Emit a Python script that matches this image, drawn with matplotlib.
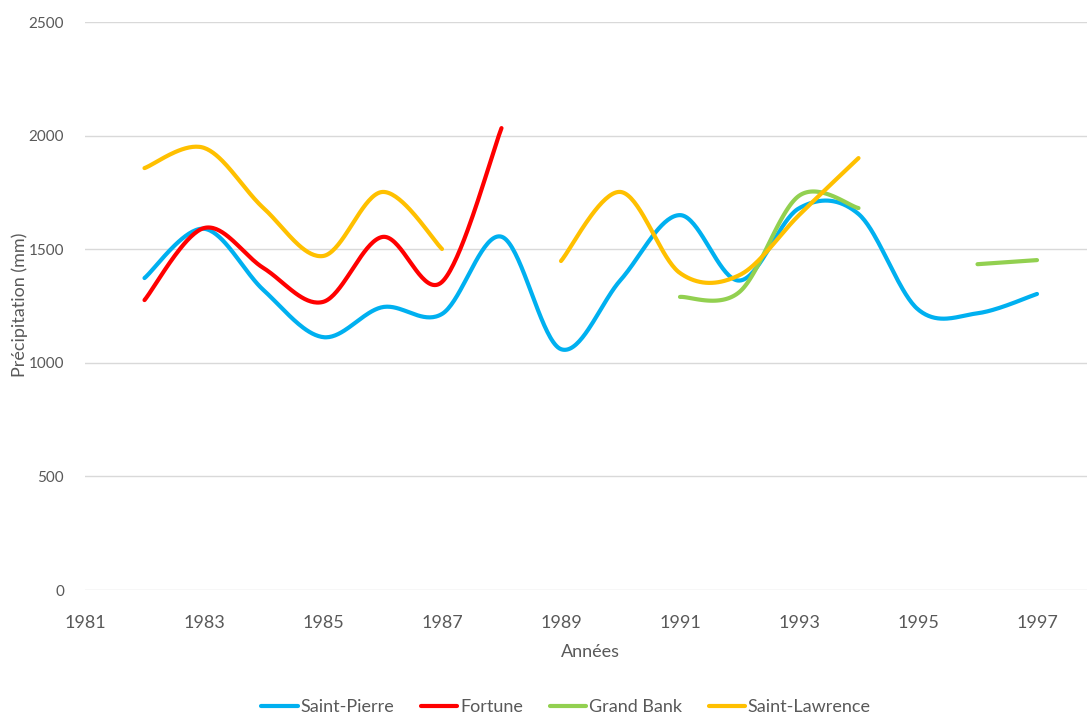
import numpy as np
import matplotlib
matplotlib.use("Agg")
import matplotlib.pyplot as plt

plt.rcParams['font.family'] = ['Lato', 'DejaVu Sans']

# précipitations annuelles (mm)
annees_sp = [1982, 1983, 1984, 1985, 1986, 1987, 1988, 1989, 1990, 1991,
             1992, 1993, 1994, 1995, 1996, 1997]
saint_pierre = [1373, 1590, 1320, 1113, 1245, 1215, 1555, 1060, 1364, 1650,
                1362, 1680, 1655, 1235, 1218, 1303]

annees_fortune = [1982, 1983, 1984, 1985, 1986, 1987, 1988]
fortune = [1276, 1593, 1417, 1268, 1554, 1356, 2033]

# Grand Bank : deux tronçons (pas de données en 1995)
annees_gb1 = [1991, 1992, 1993, 1994]
grand_bank1 = [1290, 1312, 1735, 1681]
annees_gb2 = [1996, 1997]
grand_bank2 = [1434, 1452]

# Saint-Lawrence : pas de données en 1988
annees_sl1 = [1982, 1983, 1984, 1985, 1986, 1987]
saint_lawrence1 = [1857, 1946, 1681, 1470, 1752, 1501]
annees_sl2 = [1989, 1990, 1991, 1992, 1993, 1994]
saint_lawrence2 = [1448, 1752, 1395, 1386, 1650, 1901]


def lisser(x, y, n=40):
    """Courbe lissée façon tableur (Bézier cubique passant par les points)."""
    x = np.asarray(x, float)
    y = np.asarray(y, float)
    if len(x) < 3:
        return x, y
    px = np.concatenate([[x[0]], x, [x[-1]]])
    py = np.concatenate([[y[0]], y, [y[-1]]])
    t = np.linspace(0, 1, n)
    xs, ys = [], []
    for i in range(1, len(px) - 2):
        p0x, p0y = px[i], py[i]
        p3x, p3y = px[i + 1], py[i + 1]
        c1x = p0x + (px[i + 1] - px[i - 1]) / 6
        c1y = p0y + (py[i + 1] - py[i - 1]) / 6
        c2x = p3x - (px[i + 2] - px[i]) / 6
        c2y = p3y - (py[i + 2] - py[i]) / 6
        a, b, c, d = (1 - t) ** 3, 3 * t * (1 - t) ** 2, 3 * t ** 2 * (1 - t), t ** 3
        xs.append(a * p0x + b * c1x + c * c2x + d * p3x)
        ys.append(a * p0y + b * c1y + c * c2y + d * p3y)
    return np.concatenate(xs), np.concatenate(ys)


fig = plt.figure(figsize=(10.87, 7.17), dpi=100)
ax = fig.add_axes([85 / 1087, 127 / 717, (1096.5 - 85) / 1087, 568 / 717])

bleu, rouge, vert, jaune = '#00B0F0', '#FF0000', '#92D050', '#FFC000'
style = dict(lw=3.0, solid_capstyle='round')

ax.plot(*lisser(annees_sp, saint_pierre), color=bleu, label='Saint-Pierre', **style)
ax.plot(*lisser(annees_fortune, fortune), color=rouge, label='Fortune', **style)
ax.plot(*lisser(annees_gb1, grand_bank1), color=vert, label='Grand Bank', **style)
ax.plot(*lisser(annees_gb2, grand_bank2), color=vert, **style)
ax.plot(*lisser(annees_sl1, saint_lawrence1), color=jaune, label='Saint-Lawrence', **style)
ax.plot(*lisser(annees_sl2, saint_lawrence2), color=jaune, **style)

ax.set_xlim(1981, 1998)
ax.set_ylim(0, 2500)
ax.set_xticks(range(1981, 1998, 2))
ax.set_yticks(range(0, 2501, 500))
ax.grid(axis='y', color='#D9D9D9', lw=1)
ax.set_axisbelow(True)
for s in ax.spines.values():
    s.set_visible(False)
ax.tick_params(length=0, colors='#595959')
ax.tick_params(axis='x', labelsize=13, pad=18)
ax.tick_params(axis='y', labelsize=11, pad=15)

fig.text(590 / 1087, 1 - 652 / 717, 'Années', ha='center', va='center',
         fontsize=13, color='#595959')
fig.text(20 / 1087, 1 - 305 / 717, 'Précipitation (mm)', ha='center', va='center',
         rotation=90, fontsize=13, color='#595959')

fig.legend(loc='center', bbox_to_anchor=(566 / 1087, 1 - 707 / 717), ncol=4,
           frameon=False, fontsize=13, handlelength=2.0, handletextpad=0.15,
           columnspacing=1.5, labelcolor='#595959')

fig.savefig('out.png', dpi=100)
